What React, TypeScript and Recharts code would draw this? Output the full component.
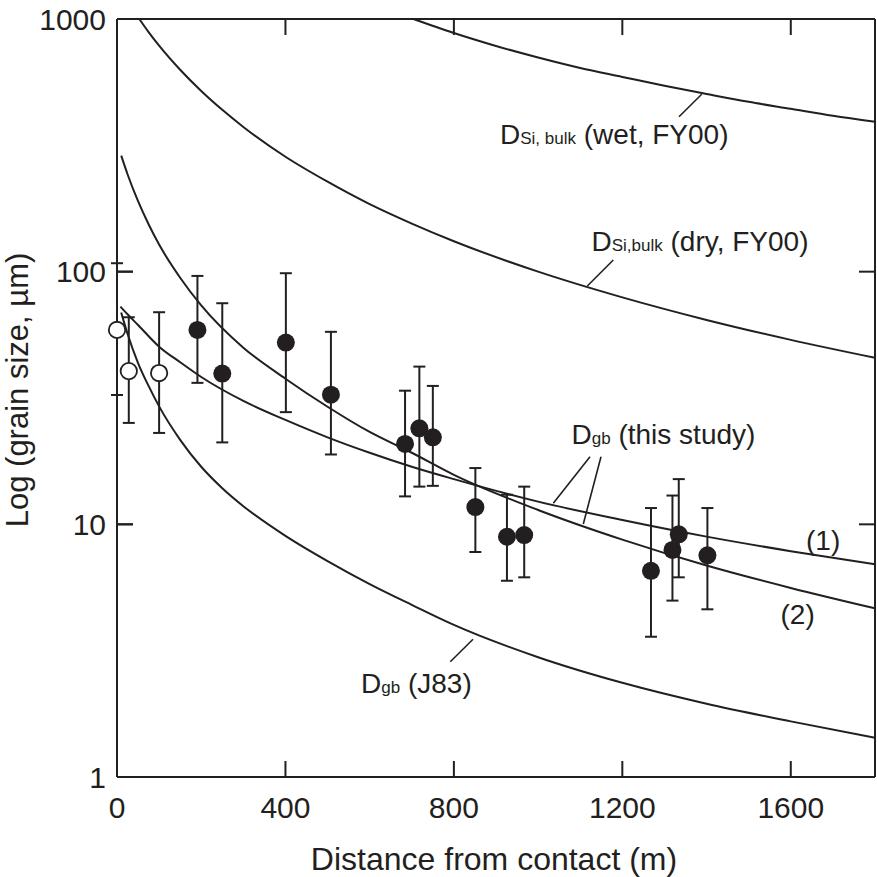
import React from 'react';
import { ComposedChart, Line, Scatter, ErrorBar, XAxis, YAxis } from 'recharts';

const INK = '#231f20';
const FONT = '"Liberation Sans", Arial, Helvetica, sans-serif';

// x ticks (m) and y ticks (grain size, µm)
const xTicks = [0, 400, 800, 1200, 1600];
const yTicks = [1, 10, 100, 1000];
// inner tick marks on the top and side frames
const topTicks = [400, 800, 1200, 1600];
const sideTicks = [10, 100];

// D_Si,bulk (wet, FY00)
const wetX = [704, 800, 900, 1000, 1100, 1200, 1300, 1400, 1500, 1600, 1700, 1800];
const wetY = [1000, 880, 782, 704, 640, 590, 544, 505, 470, 441, 414, 392];

// D_Si,bulk (dry, FY00)
const dryX = [53, 75, 100, 150, 200, 250, 300, 400, 500, 600, 700, 800, 1000, 1200, 1400, 1600, 1800];
const dryY = [1000, 888, 785, 630, 519, 437, 374, 285, 227, 185, 155, 132, 100, 79.1, 64.4, 53.7, 45.6];

// D_gb (this study), curve (1)
const c1X = [8, 25, 50, 100, 150, 200, 300, 400, 500, 600, 700, 800, 1000, 1200, 1400, 1600, 1800];
const c1Y = [72.7, 67.8, 61.5, 50.5, 43.8, 38.3, 30.8, 25.9, 22.1, 19.2, 16.9, 15.1, 12.3, 10.4, 8.94, 7.83, 6.95];

// D_gb (this study), curve (2)
const c2X = [10, 25, 50, 75, 100, 150, 200, 300, 400, 500, 600, 700, 800, 1000, 1200, 1400, 1600, 1800];
const c2Y = [288, 243, 190, 154, 128, 94.6, 73.5, 50.0, 37.7, 29.2, 23.2, 19.2, 15.7, 11.4, 8.7, 6.87, 5.6, 4.65];

// D_gb (J83)
const j83X = [10, 25, 50, 75, 100, 150, 200, 250, 300, 400, 500, 600, 700, 800, 1000, 1200, 1400, 1600, 1800];
const j83Y = [68.9, 56.8, 43.5, 35.3, 29.3, 21.6, 16.9, 13.9, 11.8, 9.0, 7.15, 5.8, 4.8, 4.0, 2.98, 2.36, 1.95, 1.66, 1.43];

// measured grain sizes: open symbols
const openX = [0, 28, 100];
const openY = [58.8, 40.4, 39.7];
const openLo = [32.5, 25.2, 23.0];
const openHi = [108, 66.0, 69.1];

// measured grain sizes: filled symbols
const fillX = [191, 250, 401, 508, 684, 718, 750, 851, 926, 967, 1268, 1319, 1334, 1402];
const fillY = [58.8, 39.5, 52.4, 32.6, 20.8, 24.0, 22.1, 11.7, 8.93, 9.07, 6.55, 7.92, 9.13, 7.54];
const fillLo = [36.3, 21.1, 27.8, 18.9, 12.9, 14.1, 14.2, 7.77, 5.98, 6.17, 3.59, 4.99, 6.17, 4.61];
const fillHi = [96.2, 75.0, 98.6, 57.8, 33.8, 42.1, 35.3, 16.7, 13.1, 14.1, 11.6, 13.0, 15.1, 11.6];

const toLine = (xs: number[], ys: number[]) => xs.map((x, i) => ({ x, y: ys[i] }));
const toPts = (xs: number[], ys: number[], lo: number[], hi: number[]) =>
  xs.map((x, i) => ({ x, y: ys[i], err: [ys[i] - lo[i], hi[i] - ys[i]] }));

const wetData = toLine(wetX, wetY);
const dryData = toLine(dryX, dryY);
const c1Data = toLine(c1X, c1Y);
const c2Data = toLine(c2X, c2Y);
const j83Data = toLine(j83X, j83Y);
const openData = toPts(openX, openY, openLo, openHi);
const fillData = toPts(fillX, fillY, fillLo, fillHi);

// plot box (px) used only for the frame tick marks in the overlay
const PLOT = { left: 117, top: 19, size: 758 };
const TICK = 16;
const frameX = (v: number) => PLOT.left + (v / 1800) * PLOT.size;
const frameY = (v: number) => PLOT.top + PLOT.size - (Math.log10(v) / 3) * PLOT.size;

const OpenDot = (props: any) => (
  <circle cx={props.cx} cy={props.cy} r={8.2} fill="#fff" stroke={INK} strokeWidth={1.8} />
);
const FillDot = (props: any) => <circle cx={props.cx} cy={props.cy} r={9} fill={INK} />;
const NoLabel = () => <g />;

const axisLine = { stroke: INK, strokeWidth: 2 };
const tickLine = { stroke: INK, strokeWidth: 2 };
const tickStyle = { fill: INK, fontSize: 30, fontFamily: FONT };

const curve = (data: any[], key: string) => (
  <Line
    key={key}
    data={data}
    dataKey="y"
    type="monotone"
    stroke={INK}
    strokeWidth={2}
    dot={false}
    activeDot={false}
    isAnimationActive={false}
  />
);

const Sub = ({ children }: { children: React.ReactNode }) => <tspan fontSize={17}>{children}</tspan>;

export default function App() {
  return (
    <div style={{ position: 'absolute', left: 0, top: 0, width: 877, height: 877, background: '#fff' }}>
      <ComposedChart width={877} height={877} margin={{ top: 18, right: 0, bottom: 0, left: 0 }}>
        <XAxis
          dataKey="x"
          type="number"
          domain={[0, 1800]}
          ticks={xTicks}
          height={100}
          axisLine={axisLine}
          tickLine={tickLine}
          tickSize={-16}
          tickMargin={36}
          tick={tickStyle}
        />
        <XAxis
          xAxisId="top"
          orientation="top"
          type="number"
          domain={[0, 1800]}
          ticks={xTicks}
          height={1}
          axisLine={axisLine}
          tickLine={false}
          tick={NoLabel}
        />
        <YAxis
          dataKey="y"
          scale="log"
          type="number"
          domain={[1, 1000]}
          ticks={yTicks}
          width={117}
          axisLine={axisLine}
          tickLine={tickLine}
          tickSize={-16}
          tickMargin={27}
          tick={tickStyle}
        />
        <YAxis
          yAxisId="right"
          orientation="right"
          scale="log"
          type="number"
          domain={[1, 1000]}
          ticks={yTicks}
          width={2}
          axisLine={axisLine}
          tickLine={false}
          tick={NoLabel}
        />
        {curve(wetData, 'wet')}
        {curve(dryData, 'dry')}
        {curve(c1Data, 'c1')}
        {curve(c2Data, 'c2')}
        {curve(j83Data, 'j83')}
        <Scatter data={openData} shape={OpenDot} isAnimationActive={false}>
          <ErrorBar dataKey="err" direction="y" width={6} stroke={INK} strokeWidth={2} />
        </Scatter>
        <Scatter data={fillData} shape={FillDot} isAnimationActive={false}>
          <ErrorBar dataKey="err" direction="y" width={6} stroke={INK} strokeWidth={2} />
        </Scatter>
      </ComposedChart>
      <svg
        width={877}
        height={877}
        style={{ position: 'absolute', left: 0, top: 0, pointerEvents: 'none' }}
        fontFamily={FONT}
        fill={INK}
      >
        <g stroke={INK} strokeWidth={2}>
          {topTicks.map((t) => (
            <line key={`t${t}`} x1={frameX(t)} y1={PLOT.top} x2={frameX(t)} y2={PLOT.top + TICK} />
          ))}
          {sideTicks.map((t) => (
            <line key={`l${t}`} x1={PLOT.left} y1={frameY(t)} x2={PLOT.left + TICK} y2={frameY(t)} />
          ))}
          {sideTicks.map((t) => (
            <line
              key={`r${t}`}
              x1={PLOT.left + PLOT.size - TICK}
              y1={frameY(t)}
              x2={PLOT.left + PLOT.size}
              y2={frameY(t)}
            />
          ))}
        </g>
        <g stroke={INK} strokeWidth={1.6}>
          <line x1={679} y1={116.7} x2={701.7} y2={94.3} />
          <line x1={587.3} y1={286} x2={613.3} y2={260} />
          <line x1={590} y1={456.7} x2={553.3} y2={503.3} />
          <line x1={601} y1={456.7} x2={583.3} y2={524} />
          <line x1={450.3} y1={661.7} x2={473} y2={639.3} />
        </g>
        <text x={500} y={144} fontSize={28}>
          D<Sub>Si, bulk</Sub> (wet, FY00)
        </text>
        <text x={591.5} y={250.7} fontSize={28}>
          D<Sub>Si,bulk</Sub> (dry, FY00)
        </text>
        <text x={571.5} y={444} fontSize={28}>
          D<Sub>gb</Sub> (this study)
        </text>
        <text x={361} y={692.7} fontSize={28}>
          D<Sub>gb</Sub> (J83)
        </text>
        <text x={806} y={550} fontSize={28}>(1)</text>
        <text x={780.5} y={624} fontSize={28}>(2)</text>
        <text x={494} y={870} fontSize={32} textAnchor="middle">
          Distance from contact (m)
        </text>
        <text transform="rotate(-90)" x={-390} y={28.3} fontSize={31} textAnchor="middle">
          Log (grain size, µm)
        </text>
      </svg>
    </div>
  );
}
